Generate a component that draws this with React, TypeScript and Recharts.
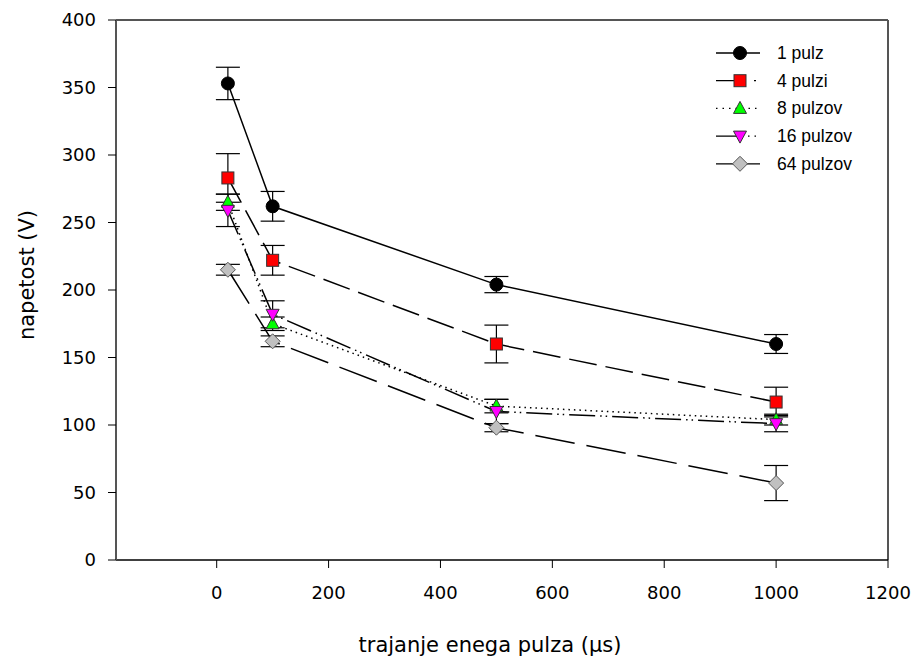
import React from 'react';
import { ComposedChart, Line, XAxis, YAxis, ErrorBar, ReferenceLine } from 'recharts';

const xValues = [20, 100, 500, 1000];
const pulz1 = [353, 262, 204, 160];
const pulz1Err = [12, 11, 6, 7];
const pulzi4 = [283, 222, 160, 117];
const pulzi4Err = [18, 11, 14, 11];
const pulzov8 = [265, 175, 114, 104];
const pulzov8Err = [6, 5, 5, 4];
const pulzov16 = [259, 182, 110, 101];
const pulzov16Err = [12, 10, 9, 6];
const pulzov64 = [215, 162, 98, 57];
const pulzov64Err = [4, 4, 3, 13];
const seriesNames = ['1 pulz', '4 pulzi', '8 pulzov', '16 pulzov', '64 pulzov'];
const xTicks = [0, 200, 400, 600, 800, 1000, 1200];
const yTicks = [0, 50, 100, 150, 200, 250, 300, 350, 400];

const data = xValues.map((x, i) => ({
  x,
  s1: pulz1[i], e1: pulz1Err[i],
  s4: pulzi4[i], e4: pulzi4Err[i],
  s8: pulzov8[i], e8: pulzov8Err[i],
  s16: pulzov16[i], e16: pulzov16Err[i],
  s64: pulzov64[i], e64: pulzov64Err[i],
}));

type Shape = 'circle' | 'square' | 'up' | 'down' | 'diamond';

const Marker = ({ cx, cy, shape }: { cx: number; cy: number; shape: Shape }) => {
  if (shape === 'circle') return <circle cx={cx} cy={cy} r={6.5} fill="#000" stroke="#000" />;
  if (shape === 'square') return <rect x={cx - 6} y={cy - 6} width={12} height={12} fill="#ff0000" stroke="#333" strokeWidth={1} />;
  if (shape === 'up') return <polygon points={`${cx},${cy - 7} ${cx - 6.5},${cy + 5} ${cx + 6.5},${cy + 5}`} fill="#00ff00" stroke="#333" strokeWidth={1} />;
  if (shape === 'down') return <polygon points={`${cx},${cy + 7} ${cx - 6.5},${cy - 5} ${cx + 6.5},${cy - 5}`} fill="#ff00ff" stroke="#333" strokeWidth={1} />;
  return <polygon points={`${cx},${cy - 7.5} ${cx + 7.5},${cy} ${cx},${cy + 7.5} ${cx - 7.5},${cy}`} fill="#c0c0c0" stroke="#555" strokeWidth={1} />;
};

const makeDot = (shape: Shape) => (props: any) => (
  <g key={`${shape}-${props.index}`}>
    <Marker cx={props.cx} cy={props.cy} shape={shape} />
  </g>
);

const series = [
  { key: 's1', err: 'e1', shape: 'circle' as Shape, dash: undefined, legendDash: undefined },
  { key: 's4', err: 'e4', shape: 'square' as Shape, dash: '28 9', legendDash: '30 8 2 8' },
  { key: 's8', err: 'e8', shape: 'up' as Shape, dash: '1.5 4', legendDash: '1.5 5' },
  { key: 's16', err: 'e16', shape: 'down' as Shape, dash: '26 5 1.5 4 1.5 5', legendDash: '26 6 1.5 5 1.5 5' },
  { key: 's64', err: 'e64', shape: 'diamond' as Shape, dash: '40 12', legendDash: undefined },
];

const LegendBox = () => (
  <svg width={200} height={150} style={{ position: 'absolute', left: 700, top: 35 }}>
    {series.map((s, i) => {
      const y = 18 + i * 27.7;
      return (
        <g key={s.key}>
          <line x1={16} x2={60} y1={y} y2={y} stroke="#000" strokeWidth={1.3} strokeDasharray={s.legendDash} />
          <Marker cx={40} cy={y} shape={s.shape} />
          <text x={77} y={y + 6} fontFamily="Liberation Sans, Arial, sans-serif" fontSize={17.5} fill="#000">{seriesNames[i]}</text>
        </g>
      );
    })}
  </svg>
);

export default function App() {
  const tickStyle = { fontFamily: 'DejaVu Sans, sans-serif', fontSize: 18, fill: '#000' };
  return (
    <div style={{ position: 'absolute', left: 0, top: 0, width: 915, height: 664, background: '#fff' }}>
      <ComposedChart width={915} height={664} data={data} margin={{ top: 20, right: 27, bottom: 44, left: 56 }}>
        <XAxis
          dataKey="x"
          type="number"
          domain={[-180, 1200]}
          ticks={xTicks}
          allowDataOverflow
          height={60}
          tickSize={8}
          tickMargin={18}
          tick={tickStyle}
          axisLine={{ stroke: '#000', strokeWidth: 1.3 }}
          tickLine={{ stroke: '#000' }}
          label={() => (
            <text x={490} y={652} textAnchor="middle" fontFamily="DejaVu Sans, sans-serif" fontSize={21} fill="#000">
              trajanje enega pulza (µs)
            </text>
          )}
        />
        <YAxis
          type="number"
          domain={[0, 400]}
          ticks={yTicks}
          width={60}
          tickSize={8}
          tickMargin={12}
          tick={tickStyle}
          axisLine={{ stroke: '#555', strokeWidth: 2 }}
          tickLine={{ stroke: '#000' }}
          label={() => (
            <text x={34} y={275} transform="rotate(-90 34 275)" textAnchor="middle" fontFamily="DejaVu Sans, sans-serif" fontSize={21} fill="#000">
              napetost (V)
            </text>
          )}
        />
        <ReferenceLine y={400} stroke="#555" strokeWidth={2} />
        <ReferenceLine x={1200} stroke="#555" strokeWidth={2} />
        {series.map((s) => (
          <Line
            key={`${s.key}-err`}
            dataKey={s.key}
            type="linear"
            stroke="none"
            dot={false}
            activeDot={false}
            legendType="none"
            isAnimationActive={false}
          >
            <ErrorBar dataKey={s.err} width={12} stroke="#000" strokeWidth={1.2} direction="y" />
          </Line>
        ))}
        {series.map((s, i) => (
          <Line
            key={s.key}
            dataKey={s.key}
            name={seriesNames[i]}
            type="linear"
            stroke="#000"
            strokeWidth={1.5}
            strokeDasharray={s.dash}
            dot={makeDot(s.shape)}
            activeDot={false}
            isAnimationActive={false}
          />
        ))}
      </ComposedChart>
      <LegendBox />
    </div>
  );
}
